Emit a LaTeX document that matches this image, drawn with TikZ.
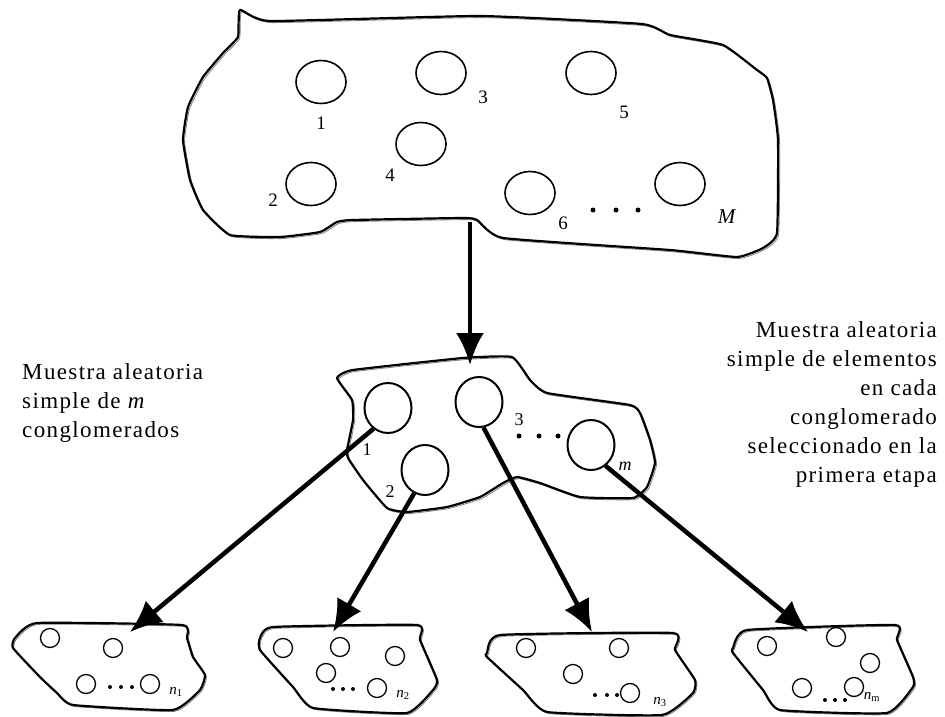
\documentclass[tikz,border=0pt]{standalone}
\usepackage{fontspec}
\setmainfont{Liberation Serif}
\usetikzlibrary{arrows.meta,shapes.geometric}
\tikzset{
  outline/.style={line width=2.2pt, line join=round},
  ghost/.style={line width=0.8pt, gray},
  grain/.style={draw, ellipse, line width=1.6pt, inner sep=0pt, minimum width=50pt, minimum height=43pt},
  midgrain/.style={grain, line width=2pt, minimum width=47pt, minimum height=50pt},
  seed/.style={draw, circle, line width=1.3pt, inner sep=0pt, minimum size=19pt},
  lbl/.style={inner sep=0pt, font=\fontsize{19}{19}\selectfont},
  midlbl/.style={inner sep=0pt, font=\fontsize{18}{18}\selectfont},
  sublbl/.style={inner sep=0pt, font=\fontsize{15}{15}\selectfont},
  arr/.style={line width=4.5pt, -{Latex[length=32pt,width=28pt]}},
  bigtxt/.style={inner sep=0pt, font=\fontsize{23}{29}\selectfont\addfontfeature{LetterSpace=6}},
}
\begin{document}
\begin{tikzpicture}[x=1pt,y=-1pt]
    \useasboundingbox (0,0) rectangle (945,717);
    % first stage: the whole population
    \foreach \sh/\st in {1.6/ghost, 0/outline}
      \draw[\st, shift={(\sh,\sh)}] plot[smooth cycle, tension=0.25] coordinates {
        (240,10) (270,21) (480,16) (642,24) (670,35) (723,45) (757,70) (767,78)
        (773,100) (778,140) (777,233) (763,248) (737,257) (670,250) (503,238)
        (477,220) (463,218) (353,220) (337,222) (320,232) (280,237) (230,235)
        (203,210) (190,180) (183,140) (188,107) (203,77) (223,53) (238,37)};
    \node[grain] (pop1) at (321,82) {};
    \node[grain] (pop3) at (441,73) {};
    \node[grain] (pop5) at (591,73) {};
    \node[grain] (pop4) at (421,144) {};
    \node[grain] (pop2) at (311,184) {};
    \node[grain] (pop6) at (530,193) {};
    \node[grain] (popM) at (680,184) {};
    \node[lbl] (lab1) at (321,123) {1};
    \node[lbl] (lab2) at (273,200) {2};
    \node[lbl] (lab3) at (483,97) {3};
    \node[lbl] (lab4) at (390,175) {4};
    \node[lbl] (lab5) at (624,112) {5};
    \node[lbl] (lab6) at (563,223) {6};
    \node[lbl, font=\fontsize{21}{21}\selectfont] (labM) at (727,217) {\textit{M}};
    \foreach \x in {593,616,638}
      \fill (\x,210) circle (2.5);
    % selected clusters
    \foreach \sh/\st in {1.6/ghost, 0/outline}
      \draw[\st, shift={(\sh,\sh)}] plot[smooth cycle, tension=0.25] coordinates {
        (337,378) (353,370) (463,358) (512,357) (530,380) (547,393) (630,405)
        (640,413) (650,440) (655,463) (647,487) (633,498) (580,497) (540,483)
        (517,477) (503,483) (480,497) (447,507) (407,512) (387,508) (363,480)
        (348,458) (347,450) (353,420) (352,400)};
    \node[midgrain] (sel1) at (388,408) {};
    \node[midgrain] (sel3) at (479,402) {};
    \node[midgrain] (sel2) at (425,470) {};
    \node[midgrain] (selm) at (591,445) {};
    \node[midlbl] (slab1) at (367,450) {1};
    \node[midlbl] (slab2) at (390,492) {2};
    \node[midlbl] (slab3) at (519,420) {3};
    \node[midlbl] (slabm) at (625,466) {\textit{m}};
    \foreach \x in {519,539,558}
      \fill (\x,436) circle (2.5);
    % second stage samples
    \foreach \sh/\st in {1.4/ghost, 0/outline}{
      \draw[\st, shift={(\sh,\sh)}] plot[smooth cycle, tension=0.25] coordinates {
        (15,638) (37,623) (182,625) (187,638) (193,657) (205,675) (200,690)
        (173,710) (73,705) (57,693) (40,677) (13,648)};
      \draw[\st, shift={(\sh,\sh)}] plot[smooth cycle, tension=0.25] coordinates {
        (260,638) (273,627) (417,625) (420,640) (437,680) (433,690) (407,713)
        (313,708) (293,687) (260,650)};
      \draw[\st, shift={(\sh,\sh)}] plot[smooth cycle, tension=0.25] coordinates {
        (487,653) (500,635) (673,633) (675,650) (695,680) (693,693) (662,715)
        (547,712) (523,690) (487,657)};
      \draw[\st, shift={(\sh,\sh)}] plot[smooth cycle, tension=0.25] coordinates {
        (733,648) (747,630) (895,625) (897,640) (913,677) (913,687) (887,713)
        (780,710) (763,690) (733,653)};
    }
    \foreach \name/\pos in {a1/{(50,638)}, a2/{(113,648)}, a3/{(86,684)}, a4/{(150,684)},
        b1/{(283,648)}, b2/{(340,647)}, b3/{(395,656)}, b4/{(326,673)}, b5/{(377,688)},
        c1/{(526,648)}, c2/{(619,648)}, c3/{(573,674)}, c4/{(630,693)},
        d1/{(767,646)}, d2/{(836,637)}, d3/{(870,663)}, d4/{(802,688)}, d5/{(854,687)}}
      \node[seed] (\name) at \pos {};
    \foreach \x/\y in {110/687, 121/687, 132/687, 333/689, 343/689, 353/689,
        595/695, 607/695, 617/695, 825/700, 835/700, 845/700}
      \fill (\x,\y) circle (2);
    \node[sublbl] (n1) at (176,692) {\textit{n}\textsubscript{1}};
    \node[sublbl] (n2) at (403,695) {\textit{n}\textsubscript{2}};
    \node[sublbl] (n3) at (660,702) {\textit{n}\textsubscript{3}};
    \node[sublbl] (nm) at (872,697) {\textit{n}\textsubscript{m}};
    % arrows
    \coordinate (popout) at (470,222);
    \coordinate (selin) at (470,365);
    \coordinate (t1) at (130,632);
    \coordinate (t2) at (333,632);
    \coordinate (t3) at (592,632);
    \coordinate (t4) at (808,632);
    \draw[arr] (popout) -- (selin);
    \draw[arr] (sel1.-125) -- (t1);
    \draw[arr] (sel2.-115) -- (t2);
    \draw[arr] (sel3.-80) -- (t3);
    \draw[arr] (selm.-55) -- (t4);
    % texts
    \node[bigtxt, align=left, anchor=north west] (lefttxt) at (22,363)
      {Muestra aleatoria\\simple de \textit{m}\\conglomerados};
    \node[bigtxt, align=right, anchor=north east] (righttxt) at (937,321)
      {Muestra aleatoria\\simple de elementos\\en cada\\conglomerado\\seleccionado en la\\primera etapa};
\end{tikzpicture}
\end{document}
